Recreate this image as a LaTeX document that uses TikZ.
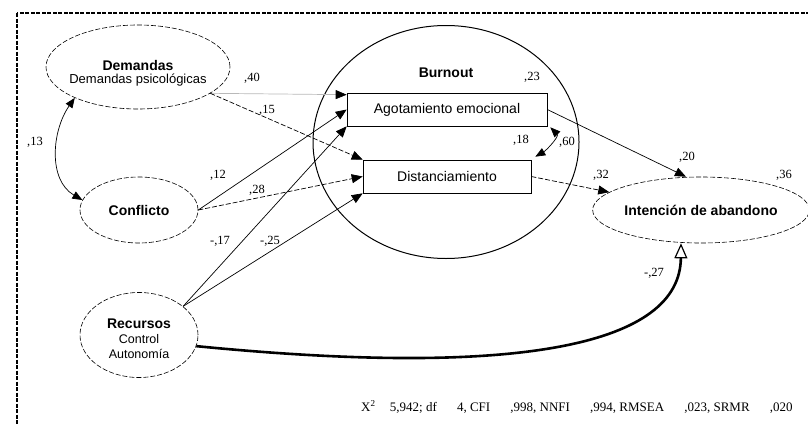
\documentclass[tikz,border=0pt]{standalone}
\usepackage{fontspec}
\setmainfont{Liberation Serif}
\setsansfont{Liberation Sans}
\usetikzlibrary{shapes.geometric,arrows.meta,positioning}

\tikzset{
  latent/.style={ellipse,draw,dash pattern=on 5pt off 2pt,line width=0.6pt,inner sep=0pt},
  factor/.style={rectangle,draw,line width=0.6pt,minimum height=33pt,inner sep=0pt,
    font=\sffamily\fontsize{14}{16}\selectfont},
  lbl/.style={font=\sffamily\bfseries\fontsize{14}{16}\selectfont,inner sep=0pt},
  sub/.style={font=\sffamily\fontsize{12.5}{14}\selectfont,inner sep=0pt},
  coef/.style={font=\fontsize{12.5}{14}\selectfont,inner sep=0pt},
  path/.style={-{Triangle[length=11pt,width=9pt,color=black]},line width=0.7pt},
  cor/.style={{Triangle[length=10pt,width=8pt]}-{Triangle[length=10pt,width=8pt]},line width=0.7pt},
  ns/.style={dash pattern=on 5pt off 2pt}
}

\begin{document}
\begin{tikzpicture}[x=1pt,y=-1pt,node distance=15pt,on grid]
\useasboundingbox (0,0) rectangle (808,423);
\draw[line width=1.6pt,dash pattern=on 4pt off 1.5pt] (17,13) rectangle (840,450);

% latent variables
\node[latent,minimum width=184pt,minimum height=84pt] (dem) at (138,67) {};
\node[lbl] (demT) at (138,65) {Demandas};
\node[sub,font=\sffamily\fontsize{13}{15}\selectfont] (demS) [below=of demT] {Demandas psicológicas};
\node[latent,minimum width=118pt,minimum height=66pt,lbl] (conf) at (139,210) {Conflicto};
\node[latent,minimum width=118pt,minimum height=85pt] (rec) at (139,335) {};
\node[lbl] (recT) at (139,324) {Recursos};
\node[sub] (recC) [below=of recT] {Control};
\node[sub] (recA) [below=of recC] {Autonomía};
\node[latent,minimum width=210pt,minimum height=66pt,lbl] (int) at (701,210) {Intención de abandono};

% burnout
\node[ellipse,draw,line width=1pt,minimum width=266pt,minimum height=233pt] (burn) at (446,142) {};
\node[lbl] (burnT) at (446,73) {Burnout};
\node[factor,minimum width=200pt] (ago) at (447,109.5) {Agotamiento emocional};
\node[factor,minimum width=168pt] (dist) at (447,176.5) {Distanciamiento};

% paths
\draw[path,draw=gray!55] (dem.-20) -- ([yshift=-2pt]ago.north west);
\draw[path,ns] (dem.-20) -- (dist.north west);
\draw[path] (conf.east) -- (ago.west);
\draw[path,ns] (conf.east) -- (dist.west);
\draw[path] (rec.33) -- (ago.south west);
\draw[path] (rec.33) -- (dist.south west);
\draw[path] (ago.east) -- ([xshift=-15pt]int.north);
\draw[path,ns] (dist.east) -- (int.169);
\draw[line width=2.6pt,-{Triangle[open,length=15pt,width=13pt,line width=1.2pt]}]
  (rec.-11) .. controls (520,378) and (680,345) .. ([xshift=-20pt]int.south);
\draw[cor] (dem.206) to[out=235,in=150] (conf.170);
\draw[cor] ([xshift=3pt,yshift=-1pt]ago.south east) to[out=-45,in=30] ([xshift=4pt,yshift=3pt]dist.north east);

% coefficients
\node[coef] (c40) at (252,78) {,40};
\node[coef] (c15) at (267,110) {,15};
\node[coef] (c13) at (35,142) {,13};
\node[coef] (c12) at (218,175) {,12};
\node[coef] (c28) at (257,190) {,28};
\node[coef] (c17) at (220,241) {-,17};
\node[coef] (c25) at (270,241) {-,25};
\node[coef] (c23) at (532,77) {,23};
\node[coef] (c18) at (521,140) {,18};
\node[coef] (c60) at (567,142) {,60};
\node[coef] (c20) at (687,157) {,20};
\node[coef] (c32) at (601,175) {,32};
\node[coef] (c36) at (784,175) {,36};
\node[coef] (c27) at (654,273) {-,27};

\node[anchor=west,inner sep=0pt,font=\fontsize{13}{15}\selectfont] (stats) at (361,407)
  {X\textsuperscript{2}\hspace{1.1em}5,942; df\hspace{1.55em}4, CFI\hspace{1.55em},998, NNFI\hspace{1.55em},994, RMSEA\hspace{1.55em},023, SRMR\hspace{1.55em},020};
\end{tikzpicture}
\end{document}
